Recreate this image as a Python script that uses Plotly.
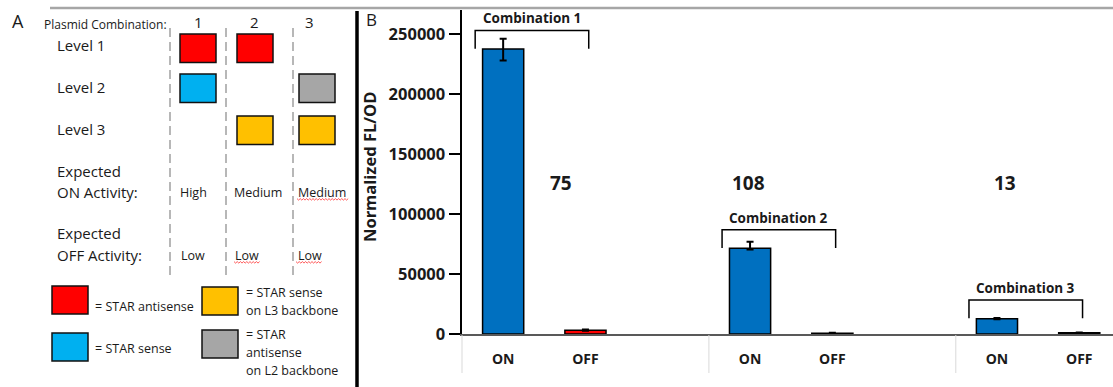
import plotly.graph_objects as go

# ---------------- Panel B data ----------------
combinations = ["Combination 1", "Combination 2", "Combination 3"]
states = ["ON", "OFF"]
on_values = [237500, 71400, 12750]
off_values = [3170, 660, 980]
on_err_plus = [8500, 5500, 500]
on_err_minus = [9500, 900, 500]
off_err = [500, 300, 300]
fold_change = [75, 108, 13]
y_ticks = [0, 50000, 100000, 150000, 200000, 250000]

# ---------------- Panel A data ----------------
plasmid_combos = ["1", "2", "3"]
levels = ["Level 1", "Level 2", "Level 3"]
level_parts = [
    ["antisense", "antisense", None],
    ["sense", None, "antisense_L2"],
    [None, "sense_L3", "sense_L3"],
]
on_activity = ["High", "Medium", "Medium"]
off_activity = ["Low", "Low", "Low"]
legend_parts = ["antisense", "sense_L3", "sense", "antisense_L2"]
legend_labels = {
    "antisense": ["= STAR antisense"],
    "sense_L3": ["= STAR sense", "on L3 backbone"],
    "sense": ["= STAR sense"],
    "antisense_L2": ["= STAR", "antisense", "on L2 backbone"],
}
part_colors = {
    "antisense": "#FF0000",
    "sense": "#00B0F0",
    "sense_L3": "#FFC000",
    "antisense_L2": "#A6A6A6",
}

# ---------------- styles / layout constants ----------------
W, H = 1113, 387
FONT = "Open Sans"
TXT = "#1a1a1a"
BLUE = "#0070C0"
RED = "#FF0000"
SLOTS = 3                      # ON, OFF, spacer per group
B_LEFT, B_RIGHT = 462, 1113    # plot area in pixels
B_TOP, B_BOTTOM = 10, 334
X_RANGE = [-0.5, 7.41]
Y_RANGE = [0, 270000]


def bx(xd):
    """data x of panel B -> pixel x"""
    return B_LEFT + (xd - X_RANGE[0]) / (X_RANGE[1] - X_RANGE[0]) * (B_RIGHT - B_LEFT)


on_x = [SLOTS * g for g in range(len(combinations))]
off_x = [SLOTS * g + 1 for g in range(len(combinations))]

fig = go.Figure()

fig.add_trace(go.Bar(
    x=on_x, y=on_values, width=0.5,
    marker=dict(color=BLUE, line=dict(color="black", width=1.5)),
    error_y=dict(type="data", array=on_err_plus, arrayminus=on_err_minus,
                 color="black", thickness=2, width=3.5),
    showlegend=False, hoverinfo="skip",
))
fig.add_trace(go.Bar(
    x=off_x, y=off_values, width=0.5,
    marker=dict(color=RED, line=dict(color="black", width=1.5)),
    error_y=dict(type="data", array=off_err, color="black", thickness=2, width=3.5),
    showlegend=False, hoverinfo="skip",
))
# invisible trace to activate the pixel overlay axes
fig.add_trace(go.Scatter(x=[0], y=[0], xaxis="x2", yaxis="y2", mode="markers",
                         marker=dict(opacity=0), showlegend=False, hoverinfo="skip"))

shapes = []
annotations = []


def text(x, y, s, size, bold=False, xanchor="left", ref=("x2", "y2"), angle=0,
         yanchor="middle", yshift=0):
    annotations.append(dict(
        x=x, y=y, xref=ref[0], yref=ref[1], text=s, showarrow=False,
        xanchor=xanchor, yanchor=yanchor, textangle=angle, yshift=yshift,
        font=dict(family=FONT, size=size, color=TXT, weight="bold" if bold else "normal"),
    ))


def rect(x0, y0, x1, y1, fill):
    shapes.append(dict(type="rect", xref="x2", yref="y2", x0=x0, y0=y0, x1=x1, y1=y1,
                       fillcolor=fill, line=dict(color="#111111", width=1.5)))


def squiggle(x0, x1, y):
    pts = []
    x = x0
    k = 0
    while x <= x1:
        pts.append(f"{x:.1f},{y + (1.1 if k % 2 else -0.4):.1f}")
        x += 1.6
        k += 1
    shapes.append(dict(type="path", xref="x2", yref="y2", path="M " + " L ".join(pts),
                       line=dict(color="#ff3030", width=0.8)))


# ---------- frame lines ----------
shapes.append(dict(type="line", xref="x2", yref="y2", x0=50, x1=1113, y0=8, y1=8,
                   line=dict(color="#A6A6A6", width=2.5)))
shapes.append(dict(type="line", xref="x2", yref="y2", x0=357, x1=357, y0=11, y1=387,
                   line=dict(color="black", width=3.5)))

# ---------- Panel A ----------
text(18, 21, "A", 18, xanchor="center")
text(42, 24, "Plasmid Combination:", 12)
num_x = [198, 254, 309]
col_cx = [198, 255, 317]
dash_x = [170, 226, 293]
for i, c in enumerate(plasmid_combos):
    text(num_x[i], 22, c, 15, xanchor="center")
for dx in dash_x:
    shapes.append(dict(type="line", xref="x2", yref="y2", x0=dx, x1=dx, y0=28, y1=278,
                       line=dict(color="#A0A0A0", width=1.5, dash="9px,5px")))

row_top = [34, 74, 116]
row_label_y = [45, 87, 129]
SQ_W, SQ_H = 36, 28.5
for r, lvl in enumerate(levels):
    text(55, row_label_y[r], lvl, 15)
    for c, part in enumerate(level_parts[r]):
        if part:
            rect(col_cx[c] - SQ_W / 2, row_top[r], col_cx[c] + SQ_W / 2, row_top[r] + SQ_H,
                 part_colors[part])

text(55, 171, "Expected", 15)
text(55, 192, "ON Activity:", 15)
text(55, 233, "Expected", 15)
text(55, 255, "OFF Activity:", 15)
act_x = [178, 232, 296]
for c in range(3):
    text(act_x[c], 192, on_activity[c], 12.5)
    text(act_x[c] + (1 if c < 2 else 0), 255, off_activity[c], 12.5)
squiggle(297, 349, 199)
squiggle(234, 260, 262)
squiggle(296, 323, 262)

leg_sq = {"antisense": (52, 286), "sense_L3": (202, 287),
          "sense": (52, 333), "antisense_L2": (202, 330)}
leg_text_y = {"antisense": [306], "sense_L3": [292, 310],
              "sense": [348], "antisense_L2": [334, 352, 370]}
for p in legend_parts:
    x0, y0 = leg_sq[p]
    rect(x0, y0, x0 + 36, y0 + 28, part_colors[p])
    for line, ty in zip(legend_labels[p], leg_text_y[p]):
        text(x0 + 41 + (1 if x0 > 100 else 0), ty, line, 12.5)

# ---------- Panel B decorations ----------
text(371, 19, "B", 17, xanchor="center")
text(369, 167, "Normalized FL/OD", 16.5, bold=True, xanchor="center", angle=-90)

# category dividers below the axis
for g in range(len(combinations)):
    px = bx(SLOTS * g - 0.5)
    shapes.append(dict(type="line", xref="x2", yref="y2", x0=px, x1=px, y0=B_BOTTOM + 1, y1=373,
                       line=dict(color="#D9D9D9", width=1)))

BR_H = 15500
for g, name in enumerate(combinations):
    x0 = on_x[g] - 0.34
    x1 = off_x[g] + 0.04
    yb = on_values[g] + 300
    yt = on_values[g] + BR_H
    shapes.append(dict(type="path", xref="x", yref="y",
                       path=f"M {x0},{yb} L {x0},{yt} L {x1},{yt} L {x1},{yb}",
                       line=dict(color="black", width=1.5)))
    text((x0 + x1) / 2, yt, name, 13.5, bold=True, xanchor="center", ref=("x", "y"),
         yanchor="bottom", yshift=1)

fold_dx = [0.7, -0.02, 0.1]
for g, f in enumerate(fold_change):
    text(on_x[g] + fold_dx[g], 125800, str(f), 19, bold=True, xanchor="center", ref=("x", "y"))

tick_vals = []
tick_text = []
for g in range(len(combinations)):
    tick_vals += [on_x[g], off_x[g]]
    tick_text += states

fig.update_layout(
    width=W, height=H, autosize=False,
    margin=dict(l=0, r=0, t=0, b=0, autoexpand=False),
    paper_bgcolor="white", plot_bgcolor="rgba(0,0,0,0)",
    bargap=0,
    xaxis=dict(
        domain=[B_LEFT / W, B_RIGHT / W], range=X_RANGE, automargin=False,
        showline=True, linecolor="#595959", linewidth=2,
        tickvals=tick_vals, ticktext=tick_text,
        ticks="outside", ticklen=11, tickcolor="rgba(0,0,0,0)",
        tickfont=dict(family=FONT, size=14, color=TXT, weight="bold"),
        showgrid=False, zeroline=False, fixedrange=True,
    ),
    yaxis=dict(
        domain=[(H - B_BOTTOM) / H, (H - B_TOP) / H], range=Y_RANGE, automargin=False,
        tickvals=y_ticks, ticktext=[str(v) for v in y_ticks],
        ticks="outside", ticklen=11, tickwidth=2, tickcolor="black",
        showline=True, linecolor="black", linewidth=2.5,
        tickfont=dict(family=FONT, size=16.5, color=TXT, weight="bold"),
        showgrid=False, zeroline=False, fixedrange=True,
    ),
    xaxis2=dict(domain=[0, 1], range=[0, W], anchor="y2", visible=False,
                automargin=False, fixedrange=True),
    yaxis2=dict(domain=[0, 1], range=[H, 0], anchor="x2", visible=False,
                automargin=False, fixedrange=True),
    shapes=shapes,
    annotations=annotations,
)

fig.write_html(
    "out.html",
    config={"responsive": False, "displayModeBar": False, "staticPlot": True},
    post_script="document.body.style.margin='0px';document.documentElement.style.overflow='hidden';",
)
